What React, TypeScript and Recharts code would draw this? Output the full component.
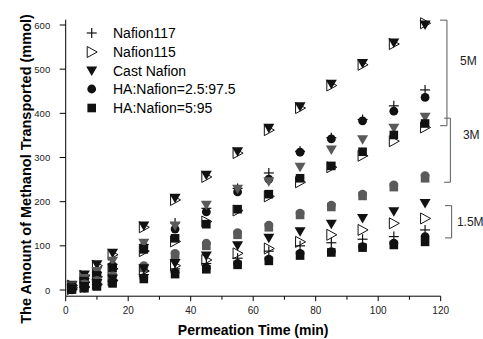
import React from "react";
import { ScatterChart, Scatter, XAxis, YAxis, Legend, ReferenceLine, ReferenceDot } from "recharts";

const TIMES = [2, 6, 10, 15, 25, 35, 45, 55, 65, 75, 85, 95, 105, 115];

// 5M
const cast5M = [11, 34, 57, 83, 145, 208, 260, 313, 366, 415, 466, 513, 559, 600];
const n115_5M = [10, 32, 55, 80, 142, 204, 256, 310, 362, 412, 463, 510, 557, 604];
const n117_5M = [9, 26, 40, 58, 103, 152, 185, 230, 265, 314, 345, 386, 417, 453];
const ha25_5M = [8, 24, 38, 55, 98, 138, 177, 222, 251, 312, 342, 383, 405, 436];
const ha5_5M = [7, 20, 33, 50, 92, 117, 149, 183, 217, 253, 281, 313, 351, 377];

// 3M
const cast3M = [9, 26, 42, 65, 106, 145, 192, 228, 245, 278, 317, 340, 366, 391];
const n115_3M = [6, 18, 30, 48, 88, 110, 155, 180, 212, 244, 278, 304, 337, 368];
const ha25_3M = [5, 14, 22, 32, 55, 83, 106, 130, 147, 174, 192, 217, 238, 259];
const ha5_3M = [4, 12, 20, 30, 50, 78, 100, 125, 142, 170, 188, 213, 233, 253];

// 1.5M
const cast15M = [3, 8, 15, 25, 48, 60, 77, 100, 117, 132, 149, 162, 177, 196];
const n115_15M = [2, 7, 13, 22, 43, 55, 68, 83, 94, 109, 125, 136, 151, 162];
const n117_15M = [2, 6, 12, 20, 35, 48, 60, 72, 88, 100, 107, 115, 121, 136];
const ha25_15M = [1, 5, 10, 18, 28, 40, 50, 60, 70, 83, 87, 98, 106, 121];
const ha5_15M = [1, 4, 8, 15, 25, 36, 47, 57, 66, 78, 85, 96, 102, 109];

const LEGEND = [
  { name: "Nafion117", kind: "plus" },
  { name: "Nafion115", kind: "right" },
  { name: "Cast Nafion", kind: "down" },
  { name: "HA:Nafion=2.5:97.5", kind: "circle" },
  { name: "HA:Nafion=5:95", kind: "square" },
];

const X_TICKS = [0, 10, 20, 30, 40, 50, 60, 70, 80, 90, 100, 110, 120];
const Y_TICKS = [0, 50, 100, 150, 200, 250, 300, 350, 400, 450, 500, 550, 600];

const DARK = "#111";
const GREY = "#5a5a5a";

const pts = (vals: number[]) => TIMES.map((t, i) => ({ t, v: vals[i] }));

function Mark({ cx, cy, kind, fill }: any) {
  if (cx == null || cy == null) return null;
  switch (kind) {
    case "down":
      return <path d={`M${cx - 5.5},${cy - 4.5}L${cx + 5.5},${cy - 4.5}L${cx},${cy + 5}Z`} fill={fill} />;
    case "right":
      return (
        <path
          d={`M${cx - 4.5},${cy - 5.5}L${cx + 5.5},${cy}L${cx - 4.5},${cy + 5.5}Z`}
          fill="none"
          stroke={DARK}
          strokeWidth={1}
        />
      );
    case "plus":
      return (
        <g stroke={fill} strokeWidth={1.2}>
          <line x1={cx - 5} y1={cy} x2={cx + 5} y2={cy} />
          <line x1={cx} y1={cy - 5} x2={cx} y2={cy + 5} />
        </g>
      );
    case "circle":
      return <circle cx={cx} cy={cy} r={4.4} fill={fill} />;
    default:
      return <rect x={cx - 4.3} y={cy - 4.3} width={8.6} height={8.6} fill={fill} />;
  }
}

const SERIES = [
  { vals: n115_5M, kind: "right", fill: DARK },
  { vals: cast5M, kind: "down", fill: DARK },
  { vals: n117_5M, kind: "plus", fill: DARK },
  { vals: ha25_5M, kind: "circle", fill: DARK },
  { vals: n115_3M, kind: "right", fill: DARK },
  { vals: cast3M, kind: "down", fill: GREY },
  { vals: ha5_5M, kind: "square", fill: DARK },
  { vals: ha5_3M, kind: "square", fill: GREY },
  { vals: ha25_3M, kind: "circle", fill: GREY },
  { vals: n117_15M, kind: "plus", fill: DARK },
  { vals: n115_15M, kind: "right", fill: DARK },
  { vals: cast15M, kind: "down", fill: DARK },
  { vals: ha25_15M, kind: "circle", fill: DARK },
  { vals: ha5_15M, kind: "square", fill: DARK },
];

// concentration brackets on the right
const BRACKETS = [
  { x: 122, top: 611, bottom: 372, from: 119.8, label: "5M", lx: 126.2, ly: 520 },
  { x: 123.1, top: 389, bottom: 244, from: 121.1, label: "3M", lx: 127.1, ly: 351 },
  { x: 123.5, top: 191, bottom: 118, from: 121.4, label: "1.5M", lx: 125.2, ly: 155 },
];

const font = "'Liberation Sans', Arial, sans-serif";

function XTick({ x, y, payload }: any) {
  const major = payload.value % 20 === 0;
  return (
    <g>
      <line x1={x} y1={y} x2={x} y2={y + (major ? 5 : 3.5)} stroke="#000" />
      {major && (
        <text x={x} y={y + 17.5} textAnchor="middle" fontSize={10} fontFamily={font} fill="#222">
          {payload.value}
        </text>
      )}
    </g>
  );
}

function YTick({ x, y, payload }: any) {
  const major = payload.value % 100 === 0;
  return (
    <g>
      <line x1={x} y1={y} x2={x - (major ? 6 : 3.5)} y2={y} stroke="#000" />
      {major && (
        <text x={x - 15.5} y={y + 3.5} textAnchor="end" fontSize={9.5} fontFamily={font} fill="#222">
          {payload.value}
        </text>
      )}
    </g>
  );
}

function YTitle({ viewBox }: any) {
  const cy = viewBox.y + viewBox.height / 2 + 11;
  return (
    <text
      x={31}
      y={cy}
      transform={`rotate(-90 31 ${cy})`}
      textAnchor="middle"
      fontFamily={font}
      fontSize={14.5}
      fontWeight={700}
      fill="#000"
    >
      The Amount of Methanol Transported (mmol)
    </text>
  );
}

function LegendBox() {
  return (
    <div style={{ fontFamily: font, fontSize: 14, color: "#000" }}>
      {LEGEND.map((l) => (
        <div key={l.name} style={{ display: "flex", alignItems: "center", height: 18.7 }}>
          <svg width={16} height={18} style={{ flex: "none" }}>
            <Mark cx={7.7} cy={9} kind={l.kind} fill={DARK} />
          </svg>
          <span style={{ marginLeft: 13, whiteSpace: "nowrap" }}>{l.name}</span>
        </div>
      ))}
    </div>
  );
}

export default function App() {
  return (
    <div style={{ position: "absolute", left: 0, top: 0, width: 483, height: 339, background: "#fff" }}>
      <ScatterChart width={483} height={339} margin={{ top: 19.7, right: 42.3, left: 0, bottom: 0 }}>
        <XAxis
          type="number"
          dataKey="t"
          domain={[0, 120]}
          ticks={X_TICKS}
          tick={<XTick />}
          tickSize={0}
          tickMargin={0}
          tickLine={false}
          axisLine={{ stroke: "#000" }}
          height={42.8}
          label={{
            value: "Permeation Time (min)",
            position: "insideBottom",
            offset: 4,
            style: { fontFamily: font, fontSize: 14, fontWeight: 700, fill: "#000" },
          }}
        />
        <YAxis
          type="number"
          dataKey="v"
          domain={[-14, 612]}
          ticks={Y_TICKS}
          tick={<YTick />}
          tickSize={0}
          tickMargin={0}
          tickLine={false}
          axisLine={{ stroke: "#000" }}
          width={65.7}
          label={<YTitle />}
        />
        {SERIES.map((s, i) => (
          <Scatter
            key={i}
            data={pts(s.vals)}
            isAnimationActive={false}
            shape={(p: any) => <Mark cx={p.cx} cy={p.cy} kind={s.kind} fill={s.fill} />}
          />
        ))}
        {BRACKETS.map((b) => (
          <React.Fragment key={b.label}>
            <ReferenceLine segment={[{ x: b.x, y: b.top }, { x: b.x, y: b.bottom }]} stroke={GREY} ifOverflow="visible" />
            <ReferenceLine segment={[{ x: b.from, y: b.top }, { x: b.x, y: b.top }]} stroke={GREY} ifOverflow="visible" />
            <ReferenceLine segment={[{ x: b.from, y: b.bottom }, { x: b.x, y: b.bottom }]} stroke={GREY} ifOverflow="visible" />
            <ReferenceDot
              x={b.lx}
              y={b.ly}
              r={0}
              stroke="none"
              fill="none"
              ifOverflow="visible"
              label={{ value: b.label, position: "right", offset: 0, style: { fontFamily: font, fontSize: 12, fill: "#222" } }}
            />
          </React.Fragment>
        ))}
        <Legend
          layout="vertical"
          align="center"
          verticalAlign="middle"
          content={() => <LegendBox />}
          wrapperStyle={{ left: 84, top: 24, width: "auto", height: "auto" }}
        />
      </ScatterChart>
    </div>
  );
}
